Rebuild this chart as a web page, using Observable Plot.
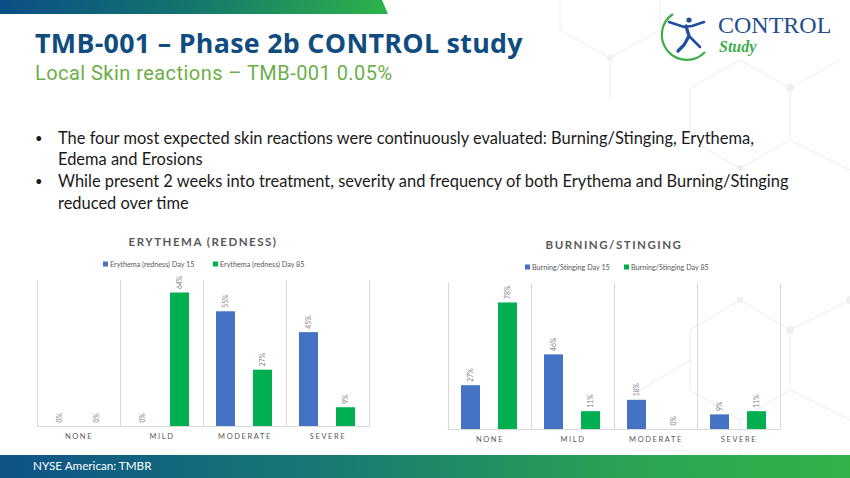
<!DOCTYPE html>
<html>
<head>
<meta charset="utf-8">
<script src="https://cdn.jsdelivr.net/npm/d3@7"></script>
<script src="https://cdn.jsdelivr.net/npm/@observablehq/plot@0.6"></script>
<style>
  html, body { margin: 0; padding: 0; background: #fff; }
  #slide { position: relative; width: 850px; height: 478px; overflow: hidden; background: #fff; font-family: Lato, "Open Sans", sans-serif; }
  #bg { position: absolute; left: 0; top: 0; }
  .chart { position: absolute; }
  .chart svg { overflow: visible; }
  .chart g[aria-label="fx-axis tick label"] text { letter-spacing: 1.6px; }
</style>
</head>
<body>
<div id="slide">
  <svg id="bg" width="850" height="478"></svg>
  <div class="chart" id="c1" style="left:10px; top:270px;"></div>
  <div class="chart" id="c2" style="left:421px; top:273px;"></div>
</div>
<script>
// ---- data ----
const categories = ["NONE", "MILD", "MODERATE", "SEVERE"];
const erythemaSeries = ["Erythema (redness) Day 15", "Erythema (redness) Day 85"];
const erythemaDay15 = [0, 0, 55, 45];
const erythemaDay85 = [0, 64, 27, 9];
const burningSeries = ["Burning/Stinging Day 15", "Burning/Stinging Day 85"];
const burningDay15 = [27, 46, 18, 9];
const burningDay85 = [78, 11, 0, 11];
const seriesColors = ["#4472C4", "#00B050"];
const bullets = [
  ["The four most expected skin reactions were continuously evaluated: Burning/Stinging, Erythema,", "Edema and Erosions"],
  ["While present 2 weeks into treatment, severity and frequency of both Erythema and Burning/Stinging", "reduced over time"]
];

// ---- static slide elements ----
const NS = "http://www.w3.org/2000/svg";
const bg = document.getElementById("bg");
bg.innerHTML = `
<defs>
  <linearGradient id="gTop" x1="0" x2="1" y1="0" y2="0">
    <stop offset="0" stop-color="#0B4F86"/>
    <stop offset="0.45" stop-color="#137170"/>
    <stop offset="1" stop-color="#2DB34A"/>
  </linearGradient>
  <linearGradient id="gBot" x1="0" x2="1" y1="0" y2="0">
    <stop offset="0" stop-color="#0D5388"/>
    <stop offset="0.4" stop-color="#1A7B72"/>
    <stop offset="0.75" stop-color="#2BA552"/>
    <stop offset="1" stop-color="#31B34A"/>
  </linearGradient>
</defs>
<g stroke="#EEF0F2" stroke-width="1.2" fill="none">
  <path d="M560 0 L560 30 L610 58 L610 100 M610 58 L660 30 L660 0"/>
  <path d="M740 60 L790 88 L790 140 L740 168 L690 140 L690 88 Z"/>
  <path d="M790 88 L840 60 M790 140 L850 170"/>
  <path d="M690 330 L740 300 L790 330 L790 390 L740 420 L690 390 Z"/>
  <path d="M790 330 L850 300 M790 390 L850 420 M740 420 L740 455"/>
  <path d="M640 390 L690 360"/>
</g>
<g fill="#EDEFF1">
  <circle cx="610" cy="58" r="3"/><circle cx="790" cy="88" r="4"/><circle cx="740" cy="168" r="3"/>
  <circle cx="790" cy="330" r="4"/><circle cx="740" cy="300" r="3"/><circle cx="850" cy="300" r="4"/>
</g>
<path d="M0 0 L382 0 L388 14 L0 14 Z" fill="url(#gTop)"/>
<rect x="0" y="455" width="850" height="23" fill="url(#gBot)"/>
<text x="33" y="469.5" fill="#fff" font-family="Lato, sans-serif" font-size="11.7">NYSE American: TMBR</text>
<text x="35" y="53" fill="#0F4C7F" font-family="'Open Sans', sans-serif" font-weight="700" font-size="26.8" letter-spacing="0.3">TMB-001 – Phase 2b CONTROL study</text>
<text x="35" y="80" fill="#6DAE48" font-family="Roboto, sans-serif" font-size="20" letter-spacing="0.45">Local Skin reactions – TMB-001 0.05%</text>
<!-- logo -->
<path d="M673 14 A25 25 0 1 0 705 52" fill="none" stroke="#3DAE49" stroke-width="2.2"/>
<g fill="#1F4E9A" stroke="#1F4E9A" stroke-linecap="round">
  <circle cx="689" cy="20" r="2.6" stroke="none"/>
  <path d="M669 22 L684 27 L692 26 L704 22" stroke-width="2.6" fill="none"/>
  <path d="M686 26 L689 36 L684 45 L678 51" stroke-width="3.2" fill="none"/>
  <path d="M689 36 L695 42 L700 47" stroke-width="2.6" fill="none"/>
</g>
<text x="718" y="33" fill="#1F4E8C" font-family="'Liberation Serif', serif" font-size="24">CONTROL</text>
<text x="719" y="52" fill="#3DAE49" font-family="'Liberation Serif', serif" font-style="italic" font-weight="700" font-size="16">Study</text>
<!-- chart titles -->
<text x="203" y="246" text-anchor="middle" fill="#595959" font-family="Lato, sans-serif" font-weight="700" font-size="11.5" letter-spacing="1.5">ERYTHEMA (REDNESS)</text>
<text x="614" y="249" text-anchor="middle" fill="#595959" font-family="Lato, sans-serif" font-weight="700" font-size="11.5" letter-spacing="1.5">BURNING/STINGING</text>
`;

function addText(x, y, str, attrs) {
  const t = document.createElementNS(NS, "text");
  t.setAttribute("x", x); t.setAttribute("y", y);
  for (const k in attrs) t.setAttribute(k, attrs[k]);
  t.textContent = str;
  bg.appendChild(t);
  return t;
}
function addRect(x, y, w, h, fill) {
  const r = document.createElementNS(NS, "rect");
  r.setAttribute("x", x); r.setAttribute("y", y); r.setAttribute("width", w); r.setAttribute("height", h); r.setAttribute("fill", fill);
  bg.appendChild(r);
}

// bullets
const bulletStyle = {"font-family": "Lato, sans-serif", "font-size": "16.45", fill: "#1a1a1a"};
const dotStyle = {"font-family": "Lato, sans-serif", "font-size": "13", fill: "#1a1a1a"};
let by = 143.5;
bullets.forEach(lines => {
  addText(35, by - 0.5, "•", dotStyle);
  lines.forEach(l => { addText(58, by, l, bulletStyle); by += 21.7; });
});

// legends
function legend(x0, x1, y, names) {
  const st = {"font-family": "Lato, sans-serif", "font-size": "7.2", fill: "#595959"};
  addRect(x0, y - 5, 5, 5, seriesColors[0]);
  addText(x0 + 7, y, names[0], st);
  addRect(x1, y - 5, 5, 5, seriesColors[1]);
  addText(x1 + 7, y, names[1], st);
}
legend(103, 213, 266.5, erythemaSeries);
legend(525, 624, 269.5, burningSeries);

// ---- charts ----
function chart(names, day15, day85, yMax) {
  const data = categories.flatMap((c, i) => [
    {cat: c, series: names[0], value: day15[i]},
    {cat: c, series: names[1], value: day85[i]}
  ]);
  return Plot.plot({
    width: 380,
    height: 176,
    marginLeft: 26,
    marginRight: 20,
    marginTop: 10,
    marginBottom: 20,
    style: {fontFamily: "Lato, sans-serif", fontSize: "7.5px", color: "#595959", background: "transparent"},
    fx: {domain: categories, padding: 0, label: null, tickSize: 0, tickPadding: 7},
    x: {domain: names, axis: null, paddingInner: 0.474, paddingOuter: 0.342},
    y: {domain: [0, yMax], axis: null},
    color: {domain: names, range: seriesColors},
    marks: [
      Plot.frame({anchor: "left", stroke: "#D9D9D9"}),
      Plot.frame({anchor: "right", stroke: "#D9D9D9"}),
      Plot.ruleY([0], {stroke: "#D9D9D9"}),
      Plot.barY(data, {fx: "cat", x: "series", y: "value", fill: "series"}),
      Plot.text(data, {fx: "cat", x: "series", y: "value", text: d => d.value + "%", rotate: -90, textAnchor: "start", dy: -4, fill: "#7F7F7F", fontSize: 6.8})
    ]
  });
}
document.getElementById("c1").appendChild(chart(erythemaSeries, erythemaDay15, erythemaDay85, 70));
document.getElementById("c2").appendChild(chart(burningSeries, burningDay15, burningDay85, 90));
</script>
</body>
</html>
